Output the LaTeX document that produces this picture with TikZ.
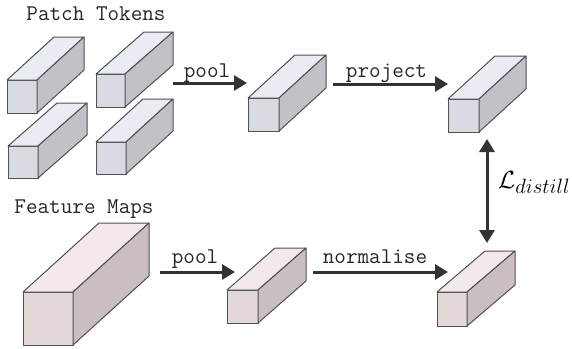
\documentclass[tikz,border=0pt]{standalone}
\usepackage{fontspec}
\usetikzlibrary{arrows.meta}
\DeclareMathSizes{26}{26}{20}{14}

\definecolor{edgegray}{HTML}{505050}
\definecolor{arrowgray}{HTML}{333333}
\definecolor{tokfront}{HTML}{D8DCE2}
\definecolor{toktop}{HTML}{E9EDF3}
\definecolor{tokside}{HTML}{C0C2C7}
\definecolor{featfront}{HTML}{E2D8D8}
\definecolor{feattop}{HTML}{F4E9EA}
\definecolor{featside}{HTML}{C9BFBF}

\tikzset{
  face/.style={draw=edgegray, line width=1pt, inner sep=0pt, outer sep=0pt, line join=round},
  edge/.style={draw=edgegray, line width=1pt, line join=round},
  flow/.style={draw=arrowgray, line width=3pt, -{Triangle[length=13pt,width=15pt]}},
  both/.style={draw=arrowgray, line width=3pt, {Triangle[length=13pt,width=15pt]}-{Triangle[length=13pt,width=15pt]}},
  mono/.style={font=\ttfamily\fontsize{22.5}{26}\selectfont, text=black!85, inner sep=0pt, anchor=base},
}

% #1 name, #2/#3 front top-left corner, #4 width, #5 height,
% #6 depth offset to the right, #7 depth offset upwards, #8 palette
\newcommand\cuboid[8]{%
  \node[face, fill=#8front, minimum width=#4pt, minimum height=#5pt, anchor=north west] (#1) at (#2,#3) {};
  \filldraw[edge, fill=#8top] (#1.north west) -- ++(#6,-#7) -- ++(#4,0) -- (#1.north east) -- cycle;
  \filldraw[edge, fill=#8side] (#1.north east) -- ++(#6,-#7) -- ++(0,#5) -- (#1.south east) -- cycle;
}

\begin{document}
\begin{tikzpicture}[x=1pt, y=-1pt]
\useasboundingbox (0,0) rectangle (572,348);

% patch tokens
\node[mono] (ptlabel) at (96,20) {Patch Tokens};
\cuboid{tokA}{7}{80}{30}{33}{47}{43}{tok}
\cuboid{tokB}{96}{74}{29}{33}{48}{42}{tok}
\cuboid{tokC}{8}{146}{30}{32}{49}{43}{tok}
\cuboid{tokD}{96}{142}{30}{32}{47}{43}{tok}
\cuboid{tokPool}{248}{98}{31}{33}{47}{43}{tok}
\cuboid{tokProj}{448}{99}{31}{33}{47}{43}{tok}

% feature maps
\node[mono] (fmlabel) at (84,213) {Feature Maps};
\cuboid{featMap}{23}{292}{50}{53}{76}{69}{feat}
\cuboid{featPool}{227}{290}{31}{33}{48}{42}{feat}
\cuboid{featNorm}{437}{292}{30}{34}{48}{41}{feat}

% connector ends
\coordinate (tokPoolIn) at (173,83);
\coordinate (tokPoolOut) at (247,83);
\coordinate (tokProjIn) at (333,84);
\coordinate (tokProjOut) at (448,84);
\coordinate (featPoolIn) at (160,272);
\coordinate (featPoolOut) at (235,272);
\coordinate (featNormIn) at (313,272);
\coordinate (featNormOut) at (448,272);
\coordinate (lossTop) at (487,139);
\coordinate (lossBot) at (487,243);

% operations
\draw[flow] (tokPoolIn) -- (tokPoolOut);
\node[mono] (poolTop) at (207,77) {pool};
\draw[flow] (tokProjIn) -- (tokProjOut);
\node[mono] (projLabel) at (386.5,77) {project};
\draw[flow] (featPoolIn) -- (featPoolOut);
\node[mono] (poolBot) at (195,263) {pool};
\draw[flow] (featNormIn) -- (featNormOut);
\node[mono] (normLabel) at (375,263) {normalise};

% distillation loss
\draw[both] (lossTop) -- (lossBot);
\node[inner sep=0pt, anchor=base west, font=\fontsize{26}{28}\selectfont] (loss) at (498,188) {$\mathcal{L}_{distill}$};
\end{tikzpicture}
\end{document}
